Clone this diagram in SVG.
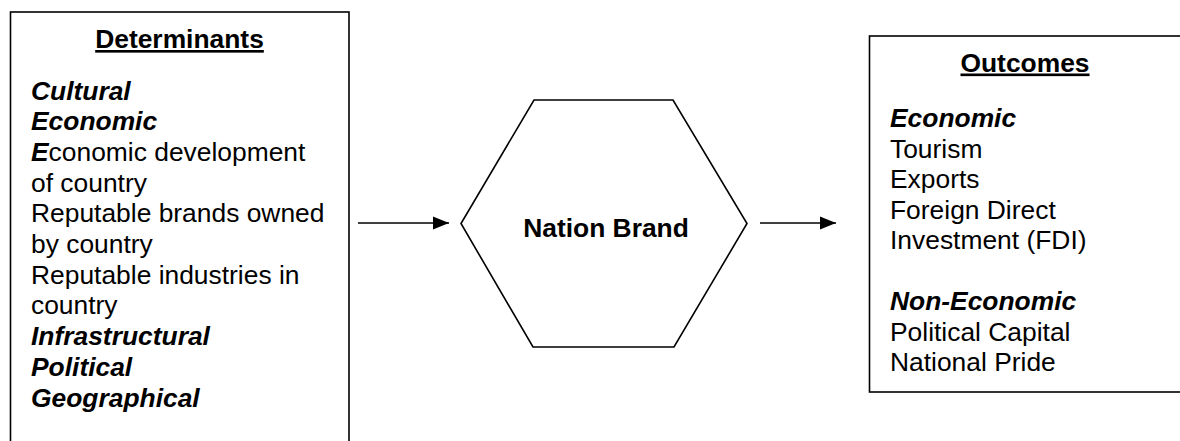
<svg xmlns="http://www.w3.org/2000/svg" width="1180" height="441" viewBox="0 0 1180 441">
  <defs>
    <marker id="arrow" markerUnits="userSpaceOnUse" markerWidth="16" markerHeight="14" viewBox="0 0 16 14" refX="16" refY="7" orient="auto">
      <path d="M0,0.5 L16,7 L0,13.5 Z" fill="#000"/>
    </marker>
  </defs>
  <style>
    .box { fill: #fff; stroke: #000; stroke-width: 1.6; }
    .t { font-family: "Liberation Sans", Arial, sans-serif; font-size: 26.4px; fill: #000; }
    .b { font-weight: bold; }
    .bi { font-weight: bold; font-style: italic; }
    .u { text-decoration: underline; }
    .conn { stroke: #000; stroke-width: 1.6; fill: none; }
  </style>
  <rect width="1180" height="441" fill="#fff"/>

  <g id="determinants">
    <rect class="box" x="10.5" y="12" width="338.5" height="460"/>
    <text class="t b u" x="179.5" y="48" text-anchor="middle">Determinants</text>
    <text class="t bi" x="31" y="99.5">Cultural</text>
    <text class="t bi" x="31" y="130.2">Economic</text>
    <text class="t" x="31" y="160.9"><tspan class="bi">E</tspan>conomic development</text>
    <text class="t" x="31" y="191.6">of country</text>
    <text class="t" x="31" y="222.3">Reputable brands owned</text>
    <text class="t" x="31" y="253">by country</text>
    <text class="t" x="31" y="283.7">Reputable industries in</text>
    <text class="t" x="31" y="314.4">country</text>
    <text class="t bi" x="31" y="345.1">Infrastructural</text>
    <text class="t bi" x="31" y="375.8">Political</text>
    <text class="t bi" x="31" y="406.5">Geographical</text>
  </g>

  <g id="nation-brand">
    <polygon class="box" points="534,100 673,100 747,223.5 674,347 533,347 461,223.5"/>
    <text class="t b" x="606" y="237" text-anchor="middle">Nation Brand</text>
  </g>

  <g id="outcomes">
    <rect class="box" x="869.5" y="36" width="314" height="356"/>
    <text class="t b u" x="1025" y="71.5" text-anchor="middle">Outcomes</text>
    <text class="t bi" x="890" y="127">Economic</text>
    <text class="t" x="890" y="157.5">Tourism</text>
    <text class="t" x="890" y="188">Exports</text>
    <text class="t" x="890" y="218.5">Foreign Direct</text>
    <text class="t" x="890" y="249">Investment (FDI)</text>
    <text class="t bi" x="890" y="310">Non-Economic</text>
    <text class="t" x="890" y="340.5">Political Capital</text>
    <text class="t" x="890" y="371">National Pride</text>
  </g>

  <g id="connectors">
    <line class="conn" x1="358" y1="223" x2="449" y2="223" marker-end="url(#arrow)"/>
    <line class="conn" x1="760" y1="223" x2="836" y2="223" marker-end="url(#arrow)"/>
  </g>
</svg>
